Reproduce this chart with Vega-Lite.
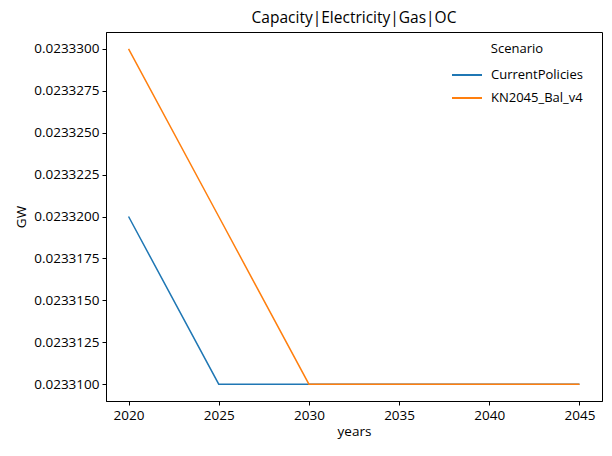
{
  "$schema": "https://vega.github.io/schema/vega-lite/v6.json",
  "autosize": {"type": "none"},
  "padding": {"left": 106, "top": 32, "right": 10, "bottom": 55},
  "width": 496,
  "height": 369,
  "title": {"text": "Capacity|Electricity|Gas|OC", "font": "Open Sans", "fontSize": 15.5, "fontWeight": "normal", "color": "black", "offset": 6},
  "config": {
    "font": "Open Sans",
    "view": {"stroke": "black", "strokeWidth": 1},
    "axis": {"grid": false, "domainColor": "black", "tickColor": "black", "labelColor": "black", "titleColor": "black", "labelFontSize": 13.5, "titleFontSize": 13.5, "titleFontWeight": "normal", "tickSize": 4, "labelPadding": 3}
  },
  "data": {"values": [
    {"years": 2020, "value": 0.02332, "Scenario": "CurrentPolicies"},
    {"years": 2025, "value": 0.02331, "Scenario": "CurrentPolicies"},
    {"years": 2030, "value": 0.02331, "Scenario": "CurrentPolicies"},
    {"years": 2035, "value": 0.02331, "Scenario": "CurrentPolicies"},
    {"years": 2040, "value": 0.02331, "Scenario": "CurrentPolicies"},
    {"years": 2045, "value": 0.02331, "Scenario": "CurrentPolicies"},
    {"years": 2020, "value": 0.02333, "Scenario": "KN2045_Bal_v4"},
    {"years": 2025, "value": 0.02332, "Scenario": "KN2045_Bal_v4"},
    {"years": 2030, "value": 0.02331, "Scenario": "KN2045_Bal_v4"},
    {"years": 2035, "value": 0.02331, "Scenario": "KN2045_Bal_v4"},
    {"years": 2040, "value": 0.02331, "Scenario": "KN2045_Bal_v4"},
    {"years": 2045, "value": 0.02331, "Scenario": "KN2045_Bal_v4"}
  ]},
  "mark": {"type": "line", "strokeWidth": 1.5, "clip": true},
  "encoding": {
    "x": {"field": "years", "type": "quantitative", "title": "years",
      "scale": {"domain": [2018.75, 2046.25], "nice": false, "zero": false},
      "axis": {"values": [2020, 2025, 2030, 2035, 2040, 2045], "format": "d", "titlePadding": 3}},
    "y": {"field": "value", "type": "quantitative", "title": "GW",
      "scale": {"domain": [0.023309, 0.023331], "nice": false, "zero": false},
      "axis": {"values": [0.02331, 0.0233125, 0.023315, 0.0233175, 0.02332, 0.0233225, 0.023325, 0.0233275, 0.02333], "format": ".7f", "titlePadding": 5}},
    "color": {"field": "Scenario", "type": "nominal",
      "scale": {"domain": ["CurrentPolicies", "KN2045_Bal_v4"], "range": ["#1f77b4", "#ff7f0e"]},
      "legend": {"orient": "none", "legendX": 345, "legendY": 11, "symbolType": "stroke", "symbolSize": 900, "symbolStrokeWidth": 2, "labelOffset": 8, "labelFontSize": 13, "titleFontSize": 13, "titleFontWeight": "normal", "titleAnchor": "middle", "labelColor": "black", "titleColor": "black", "rowPadding": 0, "titlePadding": 3}}
  }
}
